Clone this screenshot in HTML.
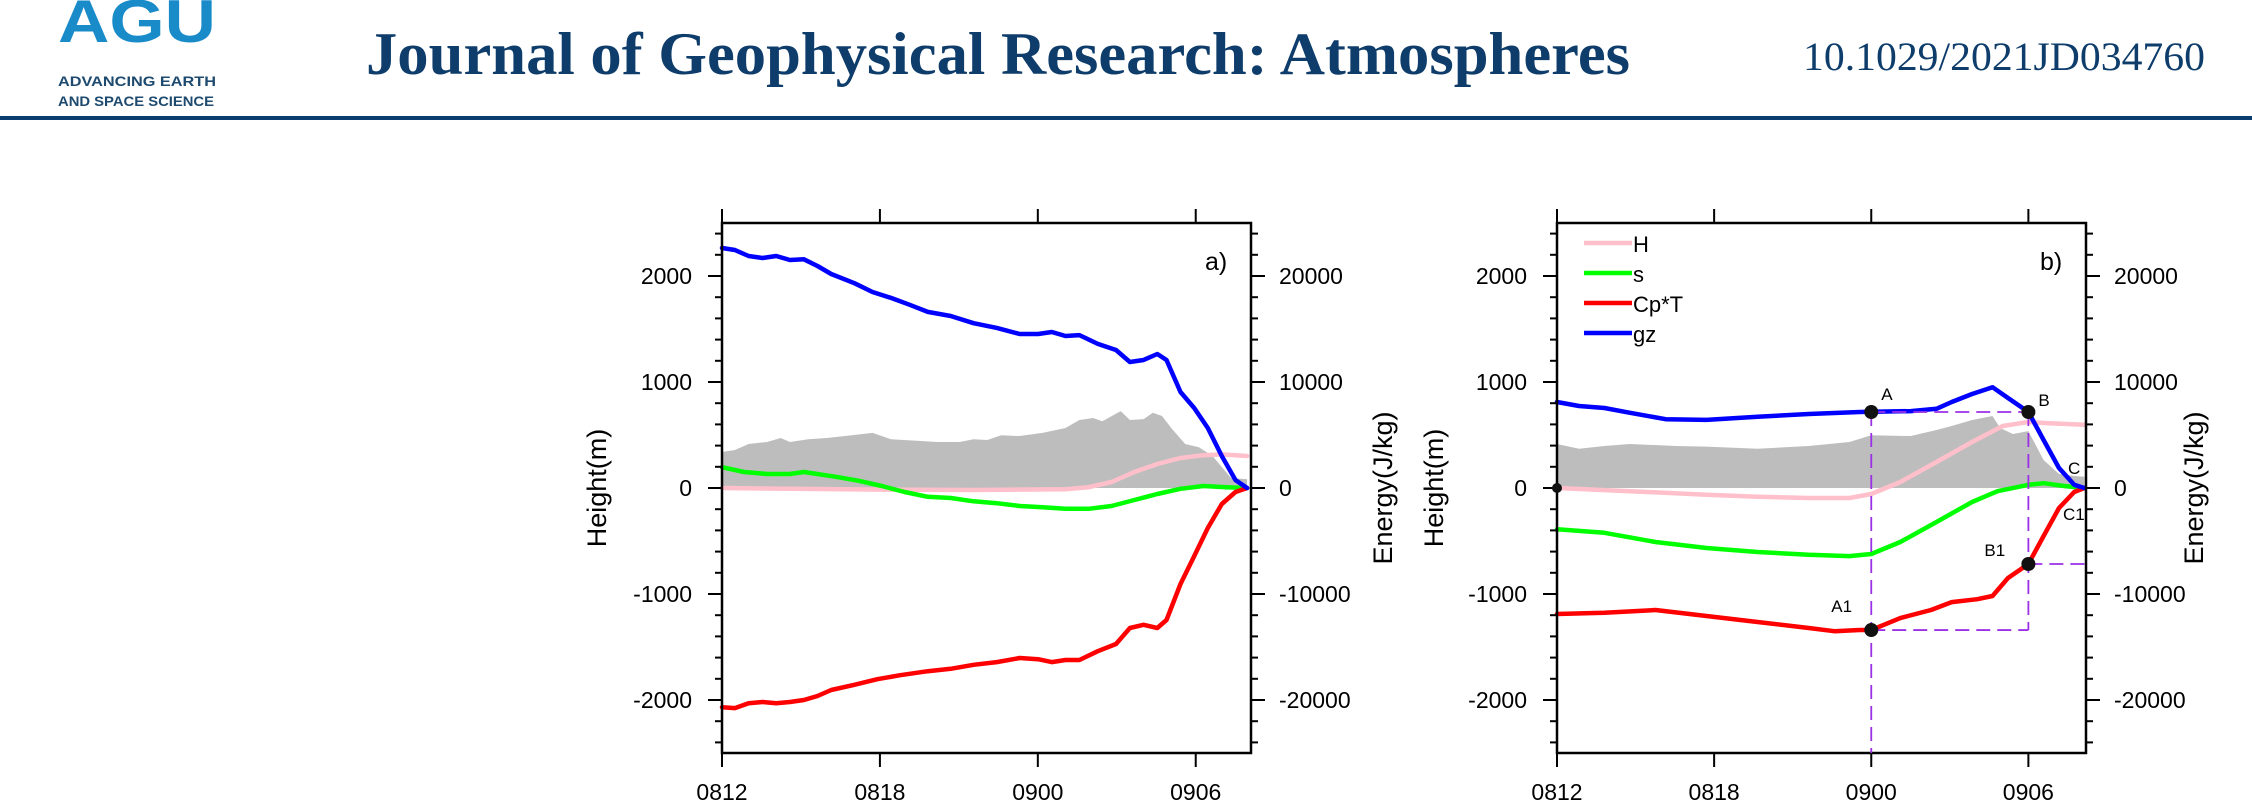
<!DOCTYPE html>
<html><head><meta charset="utf-8"><style>
body{margin:0;background:#fff;width:2252px;height:806px;overflow:hidden;font-family:"Liberation Sans",sans-serif}
svg text{font-family:"Liberation Sans",sans-serif}
</style></head><body>
<svg id="fig" width="2252" height="806" viewBox="0 0 2252 806" xmlns="http://www.w3.org/2000/svg">
<g>
<text x="58" y="42" font-size="60" font-weight="bold" fill="#1a8bc9" textLength="158" lengthAdjust="spacingAndGlyphs">AGU</text>
<text x="58" y="86" font-size="14" font-weight="bold" fill="#1d4a6e" textLength="158" lengthAdjust="spacingAndGlyphs">ADVANCING EARTH</text>
<text x="58" y="106" font-size="14" font-weight="bold" fill="#1d4a6e" textLength="156" lengthAdjust="spacingAndGlyphs">AND SPACE SCIENCE</text>
<text x="366" y="74" font-size="60" font-weight="bold" fill="#0e3d6b" textLength="1264" lengthAdjust="spacingAndGlyphs" style="font-family:'Liberation Serif',serif">Journal of Geophysical Research: Atmospheres</text>
<text x="1803" y="70" font-size="40" fill="#0e3d6b" textLength="402" lengthAdjust="spacingAndGlyphs" style="font-family:'Liberation Serif',serif">10.1029/2021JD034760</text>
<rect x="0" y="116" width="2252" height="4" fill="#0b3d6e"/>
</g>
</svg>
<script>
// ---- Panel a data (hours since 08 12Z; heights in m) ----
const xTickLabels = ["0812","0818","0900","0906"];
const xTickHours = [0,6,12,18];
const yTickValues = [-2000,-1000,0,1000,2000];
const yRightLabels = ["-20000","-10000","0","10000","20000"];
const aGzX = [0,0.49,1.01,1.54,2.06,2.58,3.11,3.63,4.15,5.03,5.72,6.42,7.12,7.82,8.69,9.56,10.44,11.31,12.01,12.53,13.05,13.58,14.28,14.97,15.5,16.02,16.54,16.89,17.42,17.94,18.46,18.99,19.51,19.95];
const aGzY = [2264,2245,2189,2170,2189,2151,2158,2094,2019,1932,1849,1793,1729,1661,1623,1555,1510,1453,1453,1472,1434,1442,1359,1302,1189,1208,1264,1208,906,755,566,302,75,0];
const aCpX = [0,0.49,1.01,1.54,2.06,2.58,3.11,3.63,4.15,5.03,5.9,6.77,7.82,8.69,9.56,10.44,11.31,12.01,12.53,13.05,13.58,14.28,14.97,15.5,16.02,16.54,16.89,17.42,17.94,18.46,18.99,19.51,19.95];
const aCpY = [-2068,-2076,-2030,-2019,-2030,-2019,-2000,-1962,-1906,-1857,-1804,-1766,-1728,-1706,-1668,-1642,-1604,-1615,-1642,-1623,-1623,-1540,-1472,-1321,-1291,-1321,-1245,-906,-642,-377,-151,-38,0];
const aSX = [0,0.84,1.71,2.58,3.11,4.33,5.2,6.07,6.94,7.82,8.69,9.56,10.44,11.31,12.18,13.05,13.93,14.8,15.67,16.54,17.42,18.29,19.16,19.95];
const aSY = [196,151,132,132,151,106,68,19,-38,-83,-94,-125,-143,-170,-181,-196,-196,-170,-113,-57,-8,19,8,0];
const aHX = [0,2.58,6.07,9.56,13.05,13.93,14.8,15.67,16.54,17.42,18.29,18.99,19.95];
const aHY = [0,-8,-15,-19,-11,8,57,151,226,283,309,317,302];
const aShadeX = [0,0.49,1.01,1.71,2.23,2.58,3.28,3.98,4.68,5.72,6.42,7.47,8.17,9.03,9.56,10.08,10.61,11.31,12.18,13.05,13.58,14.1,14.45,15.15,15.5,16.02,16.37,16.72,17.07,17.6,18.12,18.64,19.34,19.95];
const aShadeY = [340,358,415,434,472,434,460,472,490,520,460,445,434,434,460,453,498,490,520,566,642,660,630,725,642,650,710,679,566,415,385,302,94,83];
// ---- Panel b data ----
const bGzX = [0,0.84,1.81,2.79,4.15,5.71,7.66,9.61,11.56,13.51,14.49,15.07,15.85,16.63,17.22,18,18.58,19.17,19.75,20.14];
const bGzY = [811,774,755,709,649,642,672,698,717,725,747,811,887,951,849,717,453,189,30,0];
const bCpX = [0,1.81,3.76,5.71,7.66,9.61,10.59,11.56,12,13.11,14.28,15.07,16.05,16.63,17.22,18,18.58,19.17,19.75,20.14];
const bCpY = [-1189,-1177,-1151,-1208,-1264,-1321,-1351,-1340,-1340,-1227,-1151,-1076,-1049,-1019,-849,-717,-453,-189,-38,0];
const bSX = [0,1.81,3.76,5.71,7.66,9.61,11.17,12,13.11,14.49,15.85,16.82,18,18.58,19.36,20.14];
const bSY = [-389,-423,-509,-566,-604,-630,-642,-623,-509,-321,-132,-30,30,45,19,0];
const bHX = [0,2.79,5.71,7.66,9.61,11.17,12,13.11,14.49,15.85,17.02,18,18.78,20.14];
const bHY = [0,-30,-64,-83,-94,-94,-57,57,245,434,585,623,611,596];
const bShadeX = [0,0.84,1.81,2.79,4.54,5.71,7.66,9.61,11.17,12,13.51,14.49,15.07,15.85,16.63,16.92,17.41,18,18.58,19.17,19.75,20.14];
const bShadeY = [415,370,396,415,396,390,370,396,434,498,490,547,585,642,679,566,509,536,264,132,113,106];
const markPtX = [12,18,12,18];
const markPtY = [717,717,-1340,-717];
const markLabels = ["A","B","A1","B1"];

const NS = "http://www.w3.org/2000/svg";
const svg = document.getElementById("fig");
function el(tag, attrs, parent){const e=document.createElementNS(NS,tag);for(const k in attrs)e.setAttribute(k,attrs[k]);(parent||svg).appendChild(e);return e;}

function panel(cfg){
  const L=cfg.left,R=cfg.right,T=223,B=753,yMin=-2500,yMax=2500,xMax=cfg.xMax;
  const sx=h=>L+(h/xMax)*(R-L);
  const sy=v=>T+(yMax-v)/(yMax-yMin)*(B-T);
  const g=el("g",{});
  
  
  let d="M"+sx(cfg.shadeX[0])+","+sy(0);
  cfg.shadeX.forEach((x,i)=>{d+=" L"+sx(x)+","+sy(cfg.shadeY[i]);});
  d+=" L"+sx(cfg.shadeX[cfg.shadeX.length-1])+","+sy(0)+" Z";
  const sh=el("path",{d:d,fill:"#bdbdbd",stroke:"none"},g);
  
  
  const line=(xs,ys,color,name)=>{
    const p=el("path",{d:xs.map((x,i)=>(i?"L":"M")+sx(x).toFixed(1)+","+sy(ys[i]).toFixed(1)).join(" "),fill:"none",stroke:color,"stroke-width":4.5,"stroke-linejoin":"round","stroke-linecap":"round"},g);
    
    
  };
  line(cfg.hX,cfg.hY,"#ffc0cb","line-h");
  line(cfg.sX,cfg.sY,"#00ff00","line-s");
  line(cfg.cpX,cfg.cpY,"#ff0000","line-cpt");
  line(cfg.gzX,cfg.gzY,"#0000ff","line-gz");
  const fr=el("rect",{x:L,y:T,width:R-L,height:B-T,fill:"none",stroke:"#000","stroke-width":2.5},g);
  
  
  for(let v=-2400;v<=2400;v+=200){
    const major=v%1000===0, len=major?14:7, y=sy(v);
    el("line",{x1:L-len,y1:y,x2:L,y2:y,stroke:"#000","stroke-width":2},g);
    el("line",{x1:R,y1:y,x2:R+len,y2:y,stroke:"#000","stroke-width":2},g);
  }
  yTickValues.forEach((v,i)=>{
    const t=el("text",{x:L-30,y:sy(v)+8,"font-size":23,"text-anchor":"end"},g);t.textContent=v;
    
    
    const t2=el("text",{x:R+28,y:sy(v)+8,"font-size":23},g);t2.textContent=yRightLabels[i];
    
    
  });
  xTickHours.forEach((h,i)=>{
    const x=sx(h);
    el("line",{x1:x,y1:T-14,x2:x,y2:T,stroke:"#000","stroke-width":2},g);
    el("line",{x1:x,y1:B,x2:x,y2:B+14,stroke:"#000","stroke-width":2},g);
    const t=el("text",{x:x,y:800,"font-size":23,"text-anchor":"middle"},g);t.textContent=xTickLabels[i];
    
    
  });
  const yt=el("text",{x:0,y:0,"font-size":27,"text-anchor":"middle",transform:"translate("+(cfg.ytX)+",488) rotate(-90)"},g);yt.textContent="Height(m)";
  
  
  const yt2=el("text",{x:0,y:0,"font-size":27,"text-anchor":"middle",transform:"translate("+(cfg.yt2X)+",488) rotate(-90)"},g);yt2.textContent="Energy(J/kg)";
  
  
  const pl=el("text",{x:R-46,y:270,"font-size":25},g);pl.textContent=cfg.label;
  
  
  return {sx,sy,g,L,R,T,B};
}

panel({name:"panel-a",left:722,right:1251,xMax:20.1,label:"a)",ytX:606,yt2X:1392,
  gzX:aGzX,gzY:aGzY,cpX:aCpX,cpY:aCpY,sX:aSX,sY:aSY,hX:aHX,hY:aHY,shadeX:aShadeX,shadeY:aShadeY});
const pb=panel({name:"panel-b",left:1557,right:2086,xMax:20.2,label:"b)",ytX:1443,yt2X:2203,
  gzX:bGzX,gzY:bGzY,cpX:bCpX,cpY:bCpY,sX:bSX,sY:bSY,hX:bHX,hY:bHY,shadeX:bShadeX,shadeY:bShadeY});

const dash={stroke:"#9b30e6","stroke-width":1.8,"stroke-dasharray":"14,7",fill:"none"};
const sx=pb.sx, sy=pb.sy;
const guides=[
 [markPtX[0],markPtY[0],markPtX[0],-2500],
 [markPtX[0],markPtY[0],markPtX[1],markPtY[1]],
 [markPtX[1],markPtY[1],markPtX[1],markPtY[2]],
 [markPtX[2],markPtY[2],markPtX[1],markPtY[2]],
 [markPtX[3],markPtY[3],20.2,markPtY[3]]
];
guides.forEach(gd=>{
  const l=el("line",Object.assign({x1:sx(gd[0]),y1:sy(gd[1]),x2:sx(gd[2]),y2:sy(gd[3])},dash),pb.g);
  
  
});
const lblOff=[[10,-12],[10,-6],[-40,-18],[-44,-8]];
markPtX.forEach((x,i)=>{
  const c=el("circle",{cx:sx(x),cy:sy(markPtY[i]),r:7,fill:"#111"},pb.g);
  
  
  const t=el("text",{x:sx(x)+lblOff[i][0],y:sy(markPtY[i])+lblOff[i][1],"font-size":17},pb.g);t.textContent=markLabels[i];
  
  
});
const c0=el("circle",{cx:sx(0),cy:sy(0),r:5,fill:"#111"},pb.g);


const tc=el("text",{x:2068,y:474,"font-size":17},pb.g);tc.textContent="C";


const tc1=el("text",{x:2063,y:520,"font-size":17},pb.g);tc1.textContent="C1";



const legNames=["H","s","Cp*T","gz"], legColors=["#ffc0cb","#00ff00","#ff0000","#0000ff"];
legNames.forEach((n,i)=>{
  const y=243+i*30;
  const l=el("line",{x1:1584,y1:y,x2:1632,y2:y,stroke:legColors[i],"stroke-width":4.5},pb.g);
  
  
  const t=el("text",{x:1633,y:y+9,"font-size":22},pb.g);t.textContent=n;
  
  
});
</script>
</body></html>
